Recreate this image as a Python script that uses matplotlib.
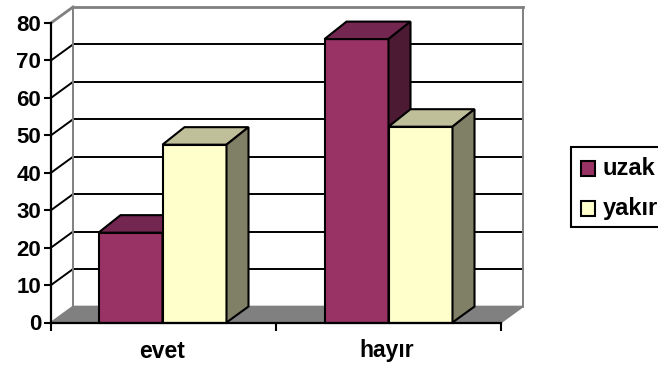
import matplotlib
matplotlib.use("Agg")
import matplotlib.pyplot as plt
from matplotlib.patches import Polygon, Rectangle
from matplotlib.transforms import Affine2D

plt.rcParams['font.family'] = ['Liberation Sans', 'DejaVu Sans']
plt.rcParams['font.weight'] = 'bold'

# --- veriler ---
kategoriler = ['evet', 'hayır']
uzak = [24, 75.7]
yakir = [47.5, 52.3]
y_ticks = [0, 10, 20, 30, 40, 50, 60, 70, 80]
seriler = ['uzak', 'yakır']

# on yuz, ust ve yan renkleri
renk_uzak = ('#993366', '#732650', '#4d1a33')
renk_yakir = ('#ffffcc', '#bfbf99', '#808066')
GRI = '#808080'

W, H = 658, 365
fig = plt.figure(figsize=(W / 100, H / 100), dpi=100)
ax = fig.add_axes([51 / W, 1 - 322.5 / H, 450 / W, 299.5 / H])
ax.set_xlim(0, 2)
ax.set_ylim(0, 80)
ax.patch.set_alpha(0)

# 3B derinlik (veri biriminde)
dx = 22 / 225
dy = 16 / 3.744
dy_bar = 17.5 / 3.744
bar_w = 64 / 225


def poly(pts, fc, ec='k', lw=1.5, z=2):
    ax.add_patch(Polygon(pts, closed=True, facecolor=fc, edgecolor=ec, linewidth=lw,
                         zorder=z, clip_on=False, joinstyle='miter'))


def kutu(x, h, renk, z):
    poly([(x, 0), (x + bar_w, 0), (x + bar_w, h), (x, h)], renk[0], z=z)
    poly([(x, h), (x + bar_w, h), (x + bar_w + dx, h + dy_bar), (x + dx, h + dy_bar)], renk[1], z=z)
    poly([(x + bar_w, 0), (x + bar_w + dx, dy), (x + bar_w + dx, h + dy_bar), (x + bar_w, h)], renk[2], z=z)


# zemin
poly([(0, 0), (2, 0), (2 + dx, dy), (dx, dy)], GRI, ec=GRI, lw=1.2, z=1)

# duvar ve kilavuz cizgileri
for v in y_ticks[1:]:
    c = GRI if v == 80 else 'k'
    lw = 2 if v == 80 else 1.4
    ax.plot([dx, 2 + dx], [v + dy, v + dy], color=c, lw=lw, zorder=1, clip_on=False)
    ax.plot([0, dx], [v, v + dy], color=c, lw=lw, zorder=1, clip_on=False)
ax.plot([dx, dx], [dy, 80 + dy], color=GRI, lw=1.4, zorder=1, clip_on=False)
ax.plot([2 + dx, 2 + dx], [dy, 80 + dy], color=GRI, lw=1.4, zorder=1, clip_on=False)

# cubuklar
for i, m in enumerate(kategoriler):
    sol = i + 0.5 - bar_w - (1 - i) / 225
    kutu(sol, uzak[i], renk_uzak, 3 + i)
    kutu(sol + bar_w, yakir[i], renk_yakir, 3 + i)

# eksenler
for s in ('top', 'right'):
    ax.spines[s].set_visible(False)
ax.spines['left'].set_linewidth(1.6)
ax.spines['bottom'].set_linewidth(1.6)
ax.spines['left'].set_zorder(8)
ax.spines['bottom'].set_zorder(8)
ax.set_yticks(y_ticks)
ax.set_yticklabels([str(v) for v in y_ticks], fontsize=16, fontweight='bold')
ax.tick_params(axis='y', length=5, width=1.5, pad=2)
ax.set_xticks([0, 1, 2])
ax.set_xticklabels([])
ax.tick_params(axis='x', length=6, width=1.5)
for i, m in enumerate(kategoriler):
    ax.annotate(m, (i + 0.5, 0), xytext=(-1, -28.5 * 0.72), textcoords='offset points',
                ha='center', va='center', fontsize=16.5, fontweight='bold')

# gosterge (piksel koordinatinda, sag kenardan tasiyor)
px = Affine2D().scale(1, -1).translate(0, H)
fig.add_artist(Rectangle((570.5, 147), 120, 80, transform=px, facecolor='white',
                         edgecolor='k', linewidth=1.5))
for ad, renk, yc in zip(seriler, (renk_uzak, renk_yakir), (168.5, 208)):
    fig.add_artist(Rectangle((580.5, yc - 7.5), 14.5, 15, transform=px, facecolor=renk[0],
                             edgecolor='k', linewidth=1.5))
    fig.text(603 / W, 1 - yc / H, ad, fontsize=17, fontweight='bold', ha='left', va='center')

fig.savefig('out.png', dpi=100)
